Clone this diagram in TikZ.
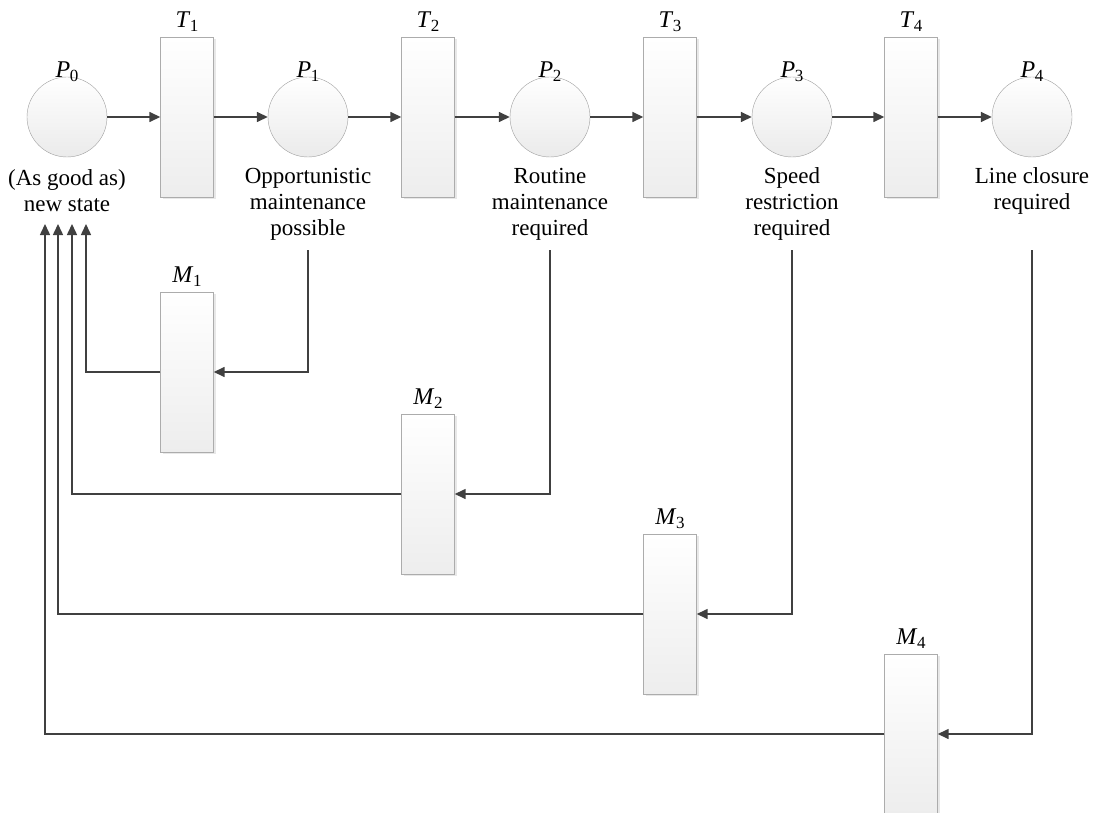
\documentclass[tikz,border=0pt]{standalone}
\usepackage{fontspec}
\setmainfont{Liberation Serif}
\usetikzlibrary{arrows.meta,shadows}
\newcommand\lab[2]{\textit{#1}\kern-0.5pt\raisebox{-0.35ex}{\fontsize{17}{17}\selectfont #2}}
\begin{document}
\begin{tikzpicture}[x=1pt,y=-1pt,
 place/.style={circle,draw=gray!75,top color=white,bottom color=gray!16,minimum size=80pt,inner sep=0pt},
 trans/.style={rectangle,draw=gray!65,top color=white,bottom color=gray!14,minimum width=53pt,minimum height=160pt,inner sep=0pt,
   drop shadow={shadow xshift=2pt,shadow yshift=-2pt,opacity=0.18,fill=gray}},
 arc/.style={draw=black!75,line width=1.5pt,-{Triangle[length=11pt,width=10pt]}},
 lbl/.style={font=\fontsize{24}{26}\selectfont},
 txt/.style={font=\fontsize{23}{26}\selectfont,align=center,inner sep=0pt}]
\useasboundingbox (0,0) rectangle (1094,813);

% places
\node[place] (p0) at (67,117) {};
\node[place] (p1) at (308,117) {};
\node[place] (p2) at (550,117) {};
\node[place] (p3) at (792,117) {};
\node[place] (p4) at (1032,117) {};
\node[lbl] (lp0) at (67,72) {\lab{P}{0}};
\node[lbl] (lp1) at (308,72) {\lab{P}{1}};
\node[lbl] (lp2) at (550,72) {\lab{P}{2}};
\node[lbl] (lp3) at (792,72) {\lab{P}{3}};
\node[lbl] (lp4) at (1032,72) {\lab{P}{4}};

% transitions
\node[trans] (t1) at (187,117) {};
\node[trans] (t2) at (428,117) {};
\node[trans] (t3) at (670,117) {};
\node[trans] (t4) at (911,117) {};
\node[lbl] (lt1) at (187,22) {\lab{T}{1}};
\node[lbl] (lt2) at (428,22) {\lab{T}{2}};
\node[lbl] (lt3) at (670,22) {\lab{T}{3}};
\node[lbl] (lt4) at (911,22) {\lab{T}{4}};

% maintenance transitions
\node[trans] (m1) at (187,372) {};
\node[trans] (m2) at (428,494) {};
\node[trans] (m3) at (670,614) {};
\node[trans] (m4) at (911,734) {};
\node[lbl] (lm1) at (187,277) {\lab{M}{1}};
\node[lbl] (lm2) at (428,399) {\lab{M}{2}};
\node[lbl] (lm3) at (670,519) {\lab{M}{3}};
\node[lbl] (lm4) at (911,639) {\lab{M}{4}};

% descriptions
\node[txt] (d0) at (67,191) {(As good as)\\new state};
\node[txt] (d1) at (308,204) {Opportunistic\\maintenance\\possible};
\node[txt] (d2) at (550,204) {Routine\\maintenance\\required};
\node[txt] (d3) at (792,204) {Speed\\restriction\\required};
\node[txt] (d4) at (1032,191) {Line closure\\required};

% forward arcs
\draw[arc] (p0) -- (t1);
\draw[arc] (t1) -- (p1);
\draw[arc] (p1) -- (t2);
\draw[arc] (t2) -- (p2);
\draw[arc] (p2) -- (t3);
\draw[arc] (t3) -- (p3);
\draw[arc] (p3) -- (t4);
\draw[arc] (t4) -- (p4);

% repair arcs
\coordinate (s1) at (308,250);
\coordinate (s2) at (550,250);
\coordinate (s3) at (792,250);
\coordinate (s4) at (1032,250);
\coordinate (a1) at (86,224);
\coordinate (a2) at (72,224);
\coordinate (a3) at (58,224);
\coordinate (a4) at (45,224);
\draw[arc] (s1) |- (m1.east);
\draw[arc] (s2) |- (m2.east);
\draw[arc] (s3) |- (m3.east);
\draw[arc] (s4) |- (m4.east);
\draw[arc] (m1.west) -| (a1);
\draw[arc] (m2.west) -| (a2);
\draw[arc] (m3.west) -| (a3);
\draw[arc] (m4.west) -| (a4);
\end{tikzpicture}
\end{document}
